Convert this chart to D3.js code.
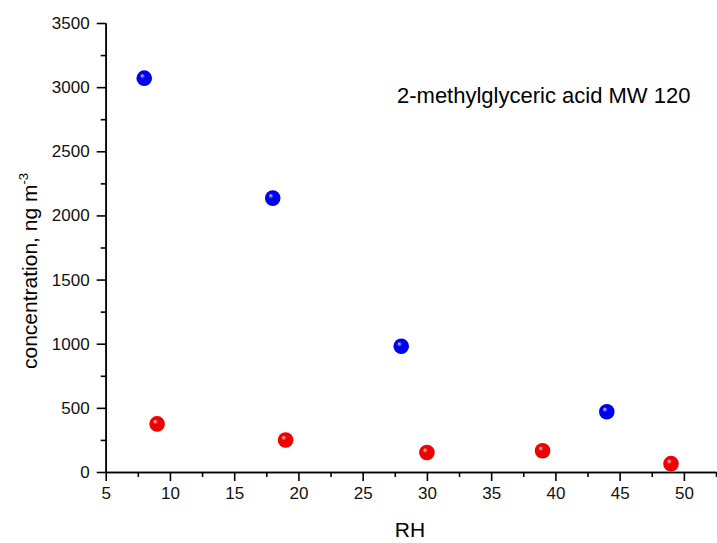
<!DOCTYPE html>
<html>
<head>
<meta charset="utf-8">
<script src="https://cdn.jsdelivr.net/npm/d3@7"></script>
<style>
  body { margin: 0; background: #fff; }
  svg { display: block; font-family: "Liberation Sans", Arial, sans-serif; }
  .axis path, .axis line { stroke: #000; stroke-width: 1.6; }
</style>
</head>
<body>
<svg id="svg1" width="717" height="543"></svg>
<script>
// data
var blueRH = [8, 18, 28, 44];
var blueConc = [3070, 2135, 980, 470];
var redRH = [9, 19, 30, 39, 49];
var redConc = [375, 250, 152, 166, 65];

var xTicks = [5, 10, 15, 20, 25, 30, 35, 40, 45, 50];
var yTicks = [0, 500, 1000, 1500, 2000, 2500, 3000, 3500];

var width = 717;
var height = 543;

var svg = d3.select("#svg1");

var scaleX = d3.scaleLinear().domain([5, 52.5]).range([105.7, 716]);
var scaleY = d3.scaleLinear().domain([0, 3500]).range([472, 23]);

// minor ticks first, half way between majors
var xMinor = xTicks.map(function(d) { return d + 2.5; });
var yMinor = yTicks.slice(0, -1).map(function(d) { return d + 250; });

svg.append("g")
    .attr("class", "axis")
    .attr("transform", "translate(0,472)")
    .call(d3.axisBottom(scaleX).tickValues(xMinor).tickSize(5).tickSizeOuter(0).tickFormat(""));

svg.append("g")
    .attr("class", "axis")
    .attr("transform", "translate(0,472)")
    .call(d3.axisBottom(scaleX).tickValues(xTicks).tickSize(9).tickSizeOuter(0).tickPadding(6).tickFormat(d3.format("d")));

svg.append("g")
    .attr("class", "axis")
    .attr("transform", "translate(105.7,0)")
    .call(d3.axisLeft(scaleY).tickValues(yMinor).tickSize(5).tickSizeOuter(0).tickFormat(""));

svg.append("g")
    .attr("class", "axis")
    .attr("transform", "translate(105.7,0)")
    .call(d3.axisLeft(scaleY).tickValues(yTicks).tickSize(9).tickSizeOuter(0).tickPadding(7).tickFormat(d3.format("d")));

d3.selectAll(".axis text")
    .style("font-size", "17px")
    .style("font-family", "'Liberation Sans', Arial, sans-serif")
    .attr("fill", "#111");

// shiny sphere gradients
var defs = svg.append("defs");

function sphere(id, light, base, dark) {
  var g = defs.append("radialGradient")
      .attr("id", id)
      .attr("cx", "50%").attr("cy", "50%").attr("r", "55%")
      .attr("fx", "35%").attr("fy", "32%");
  g.append("stop").attr("offset", "0%").attr("stop-color", light);
  g.append("stop").attr("offset", "30%").attr("stop-color", base);
  g.append("stop").attr("offset", "85%").attr("stop-color", base);
  g.append("stop").attr("offset", "100%").attr("stop-color", dark);
}
sphere("blueBall", "#d8d8ff", "#0000f0", "#0000a8");
sphere("redBall", "#ffd8d8", "#f00000", "#a80000");

var blue = blueRH.map(function(d, i) { return { x: d, y: blueConc[i] }; });
var red = redRH.map(function(d, i) { return { x: d, y: redConc[i] }; });

svg.selectAll(".blue")
    .data(blue)
    .enter()
    .append("circle")
      .attr("class", "blue")
      .attr("cx", function(d) { return scaleX(d.x); })
      .attr("cy", function(d) { return scaleY(d.y); })
      .attr("r", 7.8)
      .attr("fill", "url(#blueBall)");

svg.selectAll(".red")
    .data(red)
    .enter()
    .append("circle")
      .attr("class", "red")
      .attr("cx", function(d) { return scaleX(d.x); })
      .attr("cy", function(d) { return scaleY(d.y); })
      .attr("r", 7.8)
      .attr("fill", "url(#redBall)");

// labels
svg.append("text")
    .attr("x", 410)
    .attr("y", 537)
    .attr("text-anchor", "middle")
    .style("font-size", "21px")
    .text("RH");

var yTitle = svg.append("text")
    .attr("transform", "translate(37,271) rotate(-90)")
    .attr("text-anchor", "middle")
    .style("font-size", "21px");
yTitle.append("tspan").text("concentration, ng m");
yTitle.append("tspan").attr("dy", -9).style("font-size", "13px").text("-3");

svg.append("text")
    .attr("x", 397)
    .attr("y", 103)
    .style("font-size", "22px")
    .text("2-methylglyceric acid MW 120");
</script>
</body>
</html>
